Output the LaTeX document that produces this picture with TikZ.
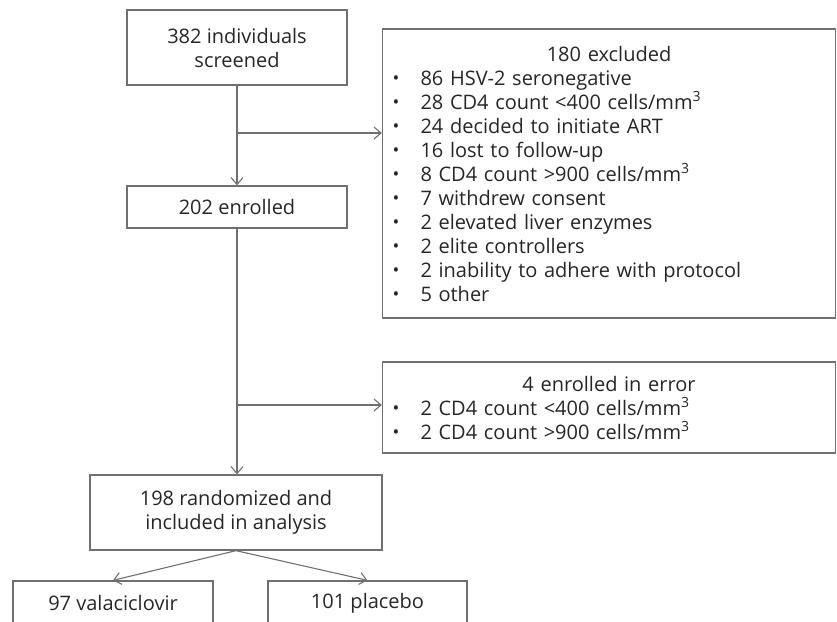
\documentclass[tikz,border=0pt]{standalone}
\usepackage{fontspec}
\setmainfont{Open Sans}
\usepackage{tikz}
\usetikzlibrary{arrows.meta}
\definecolor{boxgray}{HTML}{707070}
\definecolor{inkgray}{HTML}{262626}
\newcommand{\bul}[1]{\makebox[28pt][l]{\raisebox{0.8pt}{\fontsize{18}{18}\selectfont\textbullet}}#1}

\begin{document}
\begin{tikzpicture}[x=1pt, y=-1pt,
        flowbox/.style={draw=boxgray, line width=1.3pt, text=inkgray,
            font=\fontsize{20}{24}\selectfont, align=center, inner sep=0pt},
        listbox/.style={flowbox, align=left, text width=433pt, inner xsep=10pt},
        arr/.style={draw=boxgray, line width=1.1pt, -{Straight Barb[length=7pt,width=12pt]}}]
        \useasboundingbox (0,0) rectangle (837,621);
        \clip (0,0) rectangle (837,621);

        \node[flowbox, minimum width=220, minimum height=75] (screen) at (237,47.5) {382 individuals\\screened};
        \node[flowbox, minimum width=220, minimum height=42] (enrol) at (237,207) {202 enrolled};
        \node[listbox, minimum height=289] (excl) at (609,173.5) {\makebox[433pt]{180 excluded}\\
            \bul{86 HSV-2 seronegative}\\
            \bul{28 CD4 count <400 cells/mm\textsuperscript{3}}\\
            \bul{24 decided to initiate ART}\\
            \bul{16 lost to follow-up}\\
            \bul{8 CD4 count >900 cells/mm\textsuperscript{3}}\\
            \bul{7 withdrew consent}\\
            \bul{2 elevated liver enzymes}\\
            \bul{2 elite controllers}\\
            \bul{2 inability to adhere with protocol}\\
            \bul{5 other}};
        \node[listbox, minimum height=91] (err) at (609,407.5) {\makebox[433pt]{4 enrolled in error}\\
            \bul{2 CD4 count <400 cells/mm\textsuperscript{3}}\\
            \bul{2 CD4 count >900 cells/mm\textsuperscript{3}}};
        \node[flowbox, minimum width=292, minimum height=75] (rand) at (236,512.5) {198 randomized and\\included in analysis};
        \node[flowbox, minimum width=200, minimum height=44] (vala) at (113,603) {97 valaciclovir};
        \node[flowbox, minimum width=199, minimum height=44] (plac) at (367.5,603) {101 placebo};

        \coordinate (split1) at (237,133);
        \coordinate (split2) at (237,405);

        \draw[arr] (screen.south) -- (enrol.north);
        \draw[arr] (split1) -- (split1 -| excl.west);
        \draw[arr] (enrol.south) -- (enrol.south |- rand.north);
        \draw[arr] (split2) -- (split2 -| err.west);
        \draw[arr] (rand.south) -- (vala.north);
        \draw[arr] (rand.south) -- (plac.north);
    \end{tikzpicture}
\end{document}
